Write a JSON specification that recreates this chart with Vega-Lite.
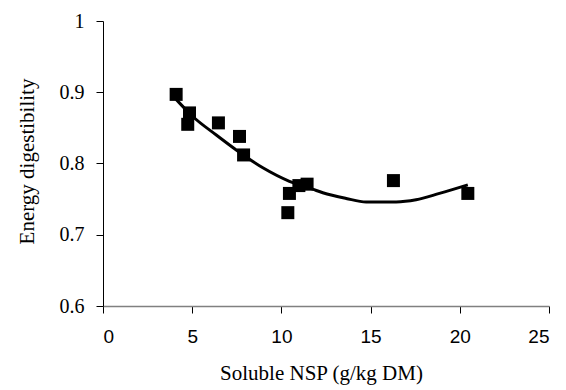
{
  "$schema": "https://vega.github.io/schema/vega-lite/v6.json",
  "width": 446,
  "height": 285,
  "autosize": {"type": "none"},
  "padding": {"left": 103, "top": 21, "right": 17, "bottom": 84},
  "background": "white",
  "config": {"view": {"stroke": null}},
  "datasets": {
    "pts": [
      {"nsp": 4.1, "ed": 0.897},
      {"nsp": 4.85, "ed": 0.871},
      {"nsp": 4.75, "ed": 0.855},
      {"nsp": 6.47, "ed": 0.857},
      {"nsp": 7.65, "ed": 0.838},
      {"nsp": 7.88, "ed": 0.812},
      {"nsp": 10.36, "ed": 0.731},
      {"nsp": 10.45, "ed": 0.758},
      {"nsp": 10.98, "ed": 0.769},
      {"nsp": 11.44, "ed": 0.771},
      {"nsp": 16.28, "ed": 0.776},
      {"nsp": 20.45, "ed": 0.758}
    ],
    "fit": [
      {"nsp": 4.1, "ed": 0.890},
      {"nsp": 5.03, "ed": 0.866},
      {"nsp": 6.35, "ed": 0.840},
      {"nsp": 7.47, "ed": 0.819},
      {"nsp": 8.96, "ed": 0.794},
      {"nsp": 10.45, "ed": 0.775},
      {"nsp": 11.75, "ed": 0.764},
      {"nsp": 12.32, "ed": 0.759},
      {"nsp": 13.63, "ed": 0.751},
      {"nsp": 14.75, "ed": 0.746},
      {"nsp": 16.43, "ed": 0.746},
      {"nsp": 17.55, "ed": 0.749},
      {"nsp": 18.86, "ed": 0.758},
      {"nsp": 20.45, "ed": 0.770}
    ]
  },
  "encoding": {
    "x": {
      "field": "nsp", "type": "quantitative",
      "scale": {"domain": [0, 25], "nice": false, "zero": false},
      "axis": {
        "title": "Soluble NSP (g/kg DM)",
        "values": [0, 5, 10, 15, 20, 25],
        "grid": false,
        "domainColor": "#808080", "domainWidth": 1.5,
        "tickColor": "#000000", "tickSize": 7, "tickWidth": 1,
        "labelFont": "Liberation Sans", "labelFontSize": 19, "labelColor": "#000000",
        "labelPadding": 14,
        "titleFont": "Liberation Serif", "titleFontSize": 21, "titleFontWeight": "normal", "titleColor": "#000000",
        "titleBaseline": "alphabetic", "titleX": 218, "titleY": 73
      }
    },
    "y": {
      "field": "ed", "type": "quantitative",
      "scale": {"domain": [0.6, 1], "nice": false, "zero": false},
      "axis": {
        "title": "Energy digestibility",
        "values": [0.6, 0.7, 0.8, 0.9, 1],
        "format": "~g",
        "grid": false,
        "domainColor": "#000000", "domainWidth": 1,
        "tickColor": "#000000", "tickSize": 7, "tickWidth": 1,
        "labelFont": "Liberation Serif", "labelFontSize": 20, "labelColor": "#000000",
        "labelPadding": 12,
        "titleFont": "Liberation Serif", "titleFontSize": 21, "titleFontWeight": "normal", "titleColor": "#000000",
        "titleAngle": 270, "titleBaseline": "alphabetic", "titleX": -70, "titleY": 140
      }
    }
  },
  "layer": [
    {
      "data": {"name": "fit"},
      "mark": {"type": "line", "color": "#000000", "strokeWidth": 3, "interpolate": "monotone"}
    },
    {
      "data": {"name": "pts"},
      "mark": {"type": "point", "shape": "square", "filled": true, "color": "#000000", "size": 169, "opacity": 1}
    }
  ]
}
